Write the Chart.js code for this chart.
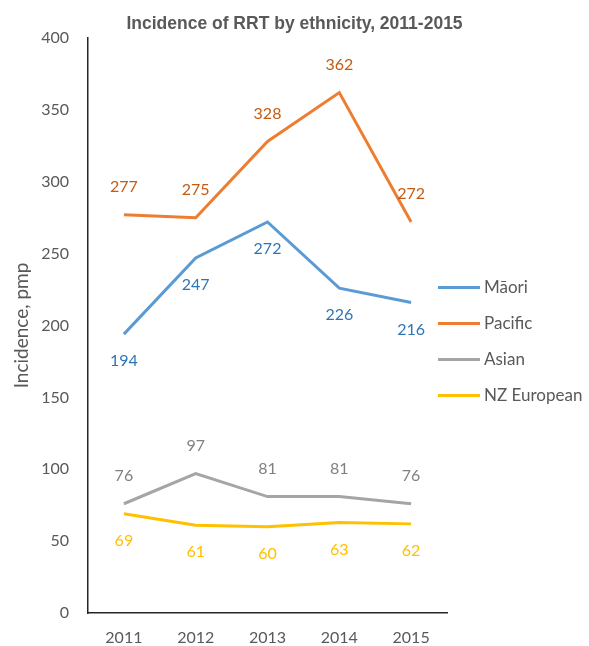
<!DOCTYPE html>
<html>
<head>
<meta charset="utf-8">
<script src="https://cdn.jsdelivr.net/npm/chart.js@4"></script>
<style>
  html, body { margin: 0; padding: 0; background: #fff; }
  #wrap { width: 589px; height: 646px; }
</style>
</head>
<body>
<div id="wrap"><canvas id="chart"></canvas></div>
<script>
// values
const years = ["2011", "2012", "2013", "2014", "2015"];
const maori = [194, 247, 272, 226, 216];
const pacific = [277, 275, 328, 362, 272];
const asian = [76, 97, 81, 81, 76];
const nzEuropean = [69, 61, 60, 63, 62];
const yTicks = [0, 50, 100, 150, 200, 250, 300, 350, 400];

const grey = "#595959";

// value labels above / below each point
const pointLabels = {
    id: "pointLabels",
    afterDatasetsDraw(chart) {
        const ctx = chart.ctx;
        ctx.save();
        ctx.font = "16px Lato";
        ctx.textAlign = "center";
        ctx.textBaseline = "middle";
        chart.data.datasets.forEach((ds, i) => {
            const meta = chart.getDatasetMeta(i);
            ctx.fillStyle = ds.labelColor;
            meta.data.forEach((pt, j) => {
                const dy = ds.labelPos == "above" ? -28 : 27;
                ctx.fillText(ds.data[j], pt.x, pt.y + dy);
            });
        });
        ctx.restore();
    }
};

// legend drawn by hand so it can sit close to the plot like the original
const sideLegend = {
    id: "sideLegend",
    afterDraw(chart) {
        const ctx = chart.ctx;
        const area = chart.chartArea;
        const rowGap = 36;
        const n = chart.data.datasets.length;
        let y = (area.top + area.bottom) / 2 + 16 - rowGap * (n - 1) / 2;
        const x0 = area.right - 9;
        ctx.save();
        ctx.font = "17px Lato";
        ctx.textAlign = "left";
        ctx.textBaseline = "middle";
        chart.data.datasets.forEach(ds => {
            ctx.strokeStyle = ds.borderColor;
            ctx.lineWidth = 3;
            ctx.beginPath();
            ctx.moveTo(x0, y);
            ctx.lineTo(x0 + 42, y);
            ctx.stroke();
            ctx.fillStyle = grey;
            ctx.fillText(ds.label, x0 + 46, y);
            y += rowGap;
        });
        ctx.restore();
    }
};

const ctx = document.getElementById("chart").getContext("2d");
new Chart(ctx, {
    type: "line",
    data: {
        labels: years,
        datasets: [
            { label: "Māori", data: maori, borderColor: "#5B9BD5",
              labelColor: "#2E75B6", labelPos: "below" },
            { label: "Pacific", data: pacific, borderColor: "#ED7D31",
              labelColor: "#C55A11", labelPos: "above" },
            { label: "Asian", data: asian, borderColor: "#A5A5A5",
              labelColor: "#808080", labelPos: "above" },
            { label: "NZ European", data: nzEuropean, borderColor: "#FFC000",
              labelColor: "#FFC000", labelPos: "below" }
        ]
    },
    options: {
        responsive: true,
        maintainAspectRatio: false,
        animation: false,
        elements: {
            line: { borderWidth: 3, tension: 0 },
            point: { radius: 0, hoverRadius: 0 }
        },
        layout: { padding: 0 },
        plugins: {
            title: {
                display: true,
                text: "Incidence of RRT by ethnicity, 2011-2015",
                color: grey,
                font: { family: "Liberation Sans", size: 17.5, weight: "bold" },
                padding: { top: 14, bottom: 3 }
            },
            legend: { display: false },
            tooltip: { enabled: false }
        },
        scales: {
            x: {
                offset: true,
                grid: { display: false, drawTicks: false },
                border: { display: true, color: "#262626", width: 1.5 },
                ticks: { color: grey, padding: 15, font: { family: "Lato", size: 16 } },
                afterFit: scale => { scale.height = 33; }
            },
            y: {
                min: 0,
                max: 400,
                afterBuildTicks: axis => { axis.ticks = yTicks.map(v => ({ value: v })); },
                grid: { display: false, drawTicks: false },
                border: { display: true, color: "#262626", width: 1.5 },
                title: {
                    display: true,
                    text: "Incidence, pmp",
                    color: grey,
                    font: { family: "Lato", size: 19 },
                    padding: { top: 10, bottom: 0 }
                },
                ticks: { color: grey, padding: 19, font: { family: "Lato", size: 16 } },
                afterFit: scale => { scale.width = 88; }
            },
            // empty right-hand box that keeps room for the legend
            side: {
                position: "right",
                grid: { display: false, drawTicks: false },
                border: { display: false },
                ticks: { display: false },
                afterFit: scale => { scale.width = 142; }
            }
        }
    },
    plugins: [pointLabels, sideLegend]
});
</script>
</body>
</html>
